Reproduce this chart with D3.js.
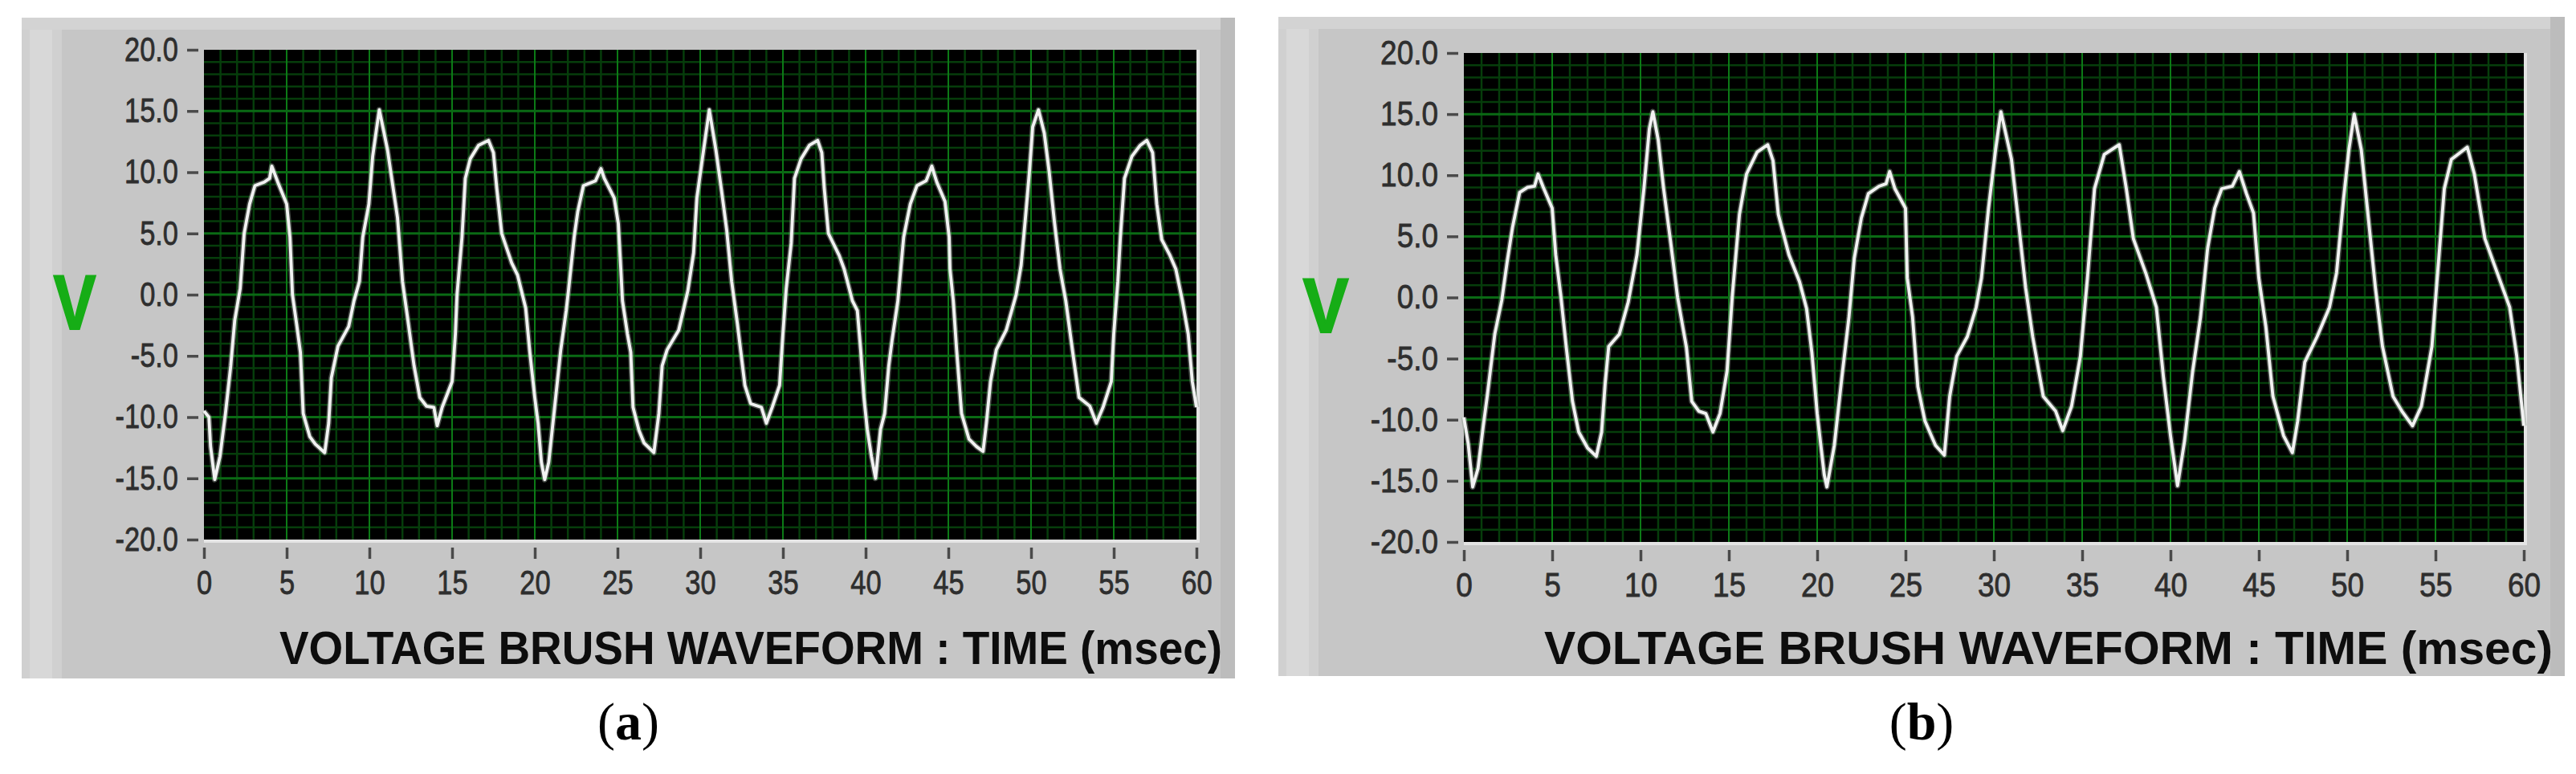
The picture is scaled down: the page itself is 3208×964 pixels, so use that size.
<!DOCTYPE html>
<html>
<head>
<meta charset="utf-8">
<script src="https://cdn.jsdelivr.net/npm/d3@7/dist/d3.min.js"></script>
<style>
  body { margin: 0; background: #fff; }
  svg { display: block; }
</style>
</head>
<body>
<div id="chart-container"></div>
<script>
// waveform (a): time in msec, voltage in V
const timeA = [0.0, 0.3, 0.4, 0.65, 0.97, 1.3, 1.62, 1.86, 2.19, 2.43, 2.76, 3.08, 3.65, 3.97, 4.1, 4.46, 5.0, 5.2, 5.35, 5.6, 5.83, 6.0, 6.4, 6.73, 7.3, 7.54, 7.7, 8.1, 8.75, 9.07, 9.4, 9.6, 9.97, 10.2, 10.45, 10.6, 10.86, 11.1, 11.35, 11.7, 12.0, 12.3, 12.7, 13.05, 13.45, 13.9, 14.1, 14.4, 15.0, 15.2, 15.3, 15.6, 15.8, 16.1, 16.6, 17.2, 17.5, 17.7, 18.0, 18.6, 18.96, 19.45, 19.7, 20.0, 20.2, 20.4, 20.6, 20.84, 21.16, 21.57, 21.9, 22.05, 22.38, 22.6, 22.94, 23.67, 24.0, 24.2, 24.8, 25.05, 25.2, 25.3, 25.6, 25.8, 25.94, 26.3, 26.6, 27.2, 27.5, 27.7, 28.0, 28.7, 29.25, 29.6, 29.8, 30.15, 30.55, 30.95, 31.3, 31.6, 31.9, 32.25, 32.7, 33.05, 33.7, 34.0, 34.35, 34.8, 35.0, 35.2, 35.5, 35.7, 36.1, 36.6, 37.1, 37.35, 37.5, 37.75, 38.4, 38.7, 39.2, 39.5, 39.7, 39.9, 40.1, 40.35, 40.6, 40.9, 41.15, 41.4, 41.6, 41.95, 42.3, 42.7, 43.1, 43.66, 44.0, 44.3, 44.8, 45.05, 45.1, 45.3, 45.5, 45.8, 46.25, 46.7, 47.1, 47.3, 47.55, 47.9, 48.5, 49.1, 49.4, 49.65, 49.9, 50.1, 50.45, 50.8, 51.1, 51.4, 51.75, 52.1, 52.5, 52.9, 53.55, 53.95, 54.35, 54.85, 55.0, 55.25, 55.4, 55.65, 56.1, 56.6, 57.0, 57.35, 57.6, 57.9, 58.4, 58.75, 59.15, 59.5, 59.75, 60.0];
const voltA = [-9.5, -10, -12.4, -15.1, -13.2, -9.7, -5.8, -2.1, 0.5, 5, 7.4, 8.9, 9.2, 9.5, 10.5, 9.2, 7.4, 4.7, 0, -2.4, -4.7, -9.7, -11.6, -12.2, -12.9, -10.5, -6.8, -4.2, -2.6, -0.5, 1.1, 4.7, 7.4, 11.3, 13.7, 15.1, 13.4, 11.8, 9.5, 6.3, 1.1, -1.8, -5.8, -8.4, -9.1, -9.2, -10.7, -9.2, -7.1, -3.2, 0, 4.7, 9.5, 11.1, 12.2, 12.6, 11.6, 8.7, 5.0, 2.6, 1.6, -1.1, -4.7, -8.4, -10.5, -13.7, -15.1, -13.7, -9.7, -4.5, -1.3, 0.5, 4.7, 6.8, 8.9, 9.3, 10.3, 9.5, 7.9, 5.8, 2.1, -0.5, -3.2, -4.7, -9.2, -11.1, -12.1, -12.9, -9.7, -5.8, -4.5, -2.9, 0.3, 3.4, 7.9, 11.3, 15.1, 11.8, 8.4, 5.3, 1.1, -2.4, -7.4, -8.9, -9.2, -10.5, -9.2, -7.4, -3.2, 0.5, 4.2, 9.5, 11.1, 12.2, 12.6, 11.6, 8.7, 5.0, 3.2, 2.1, -0.5, -1.3, -4.5, -8.4, -11, -13.2, -15, -11, -9.7, -5.8, -3.7, -0.5, 4.7, 7.4, 8.9, 9.3, 10.5, 9.2, 7.6, 4.7, 2.1, -0.5, -4.5, -9.7, -11.8, -12.4, -12.8, -10.5, -7.1, -4.5, -2.9, 0, 2.4, 6.1, 10, 13.7, 15.1, 13.2, 10, 6.1, 2.1, -0.5, -4.5, -8.4, -9.1, -10.5, -9.2, -7.1, -3.2, 1.1, 4.7, 9.5, 11.3, 12.2, 12.6, 11.6, 7.4, 4.5, 3.2, 2.1, -0.5, -3.2, -7.1, -9.2];

// waveform (b)
const timeB = [0.0, 0.25, 0.5, 0.8, 1.1, 1.33, 1.75, 2.15, 2.45, 2.75, 3.16, 3.6, 4.0, 4.2, 4.5, 5.0, 5.2, 5.5, 5.8, 6.15, 6.5, 7.0, 7.5, 7.8, 8.0, 8.2, 8.8, 9.3, 9.8, 10.2, 10.5, 10.7, 11.0, 11.3, 11.7, 12.1, 12.6, 12.9, 13.3, 13.7, 14.1, 14.5, 14.9, 15.2, 15.6, 16.0, 16.6, 17.2, 17.5, 17.8, 18.4, 19.0, 19.4, 19.7, 20.0, 20.2, 20.4, 20.55, 20.97, 21.4, 21.8, 22.1, 22.5, 22.9, 23.5, 23.9, 24.1, 24.4, 25.0, 25.1, 25.4, 25.7, 26.1, 26.7, 27.2, 27.5, 27.9, 28.5, 29.0, 29.3, 29.7, 30.1, 30.4, 31.0, 31.4, 31.8, 32.2, 32.8, 33.5, 33.9, 34.4, 34.9, 35.3, 35.7, 36.25, 37.1, 37.5, 37.9, 38.6, 39.2, 39.6, 40.0, 40.4, 40.8, 41.25, 41.7, 42.1, 42.5, 42.9, 43.5, 43.9, 44.3, 44.7, 45.0, 45.4, 45.8, 46.4, 46.9, 47.2, 47.6, 48.3, 49.0, 49.4, 49.8, 50.1, 50.4, 50.8, 51.2, 51.6, 52.0, 52.6, 53.1, 53.7, 54.2, 54.8, 55.1, 55.5, 55.9, 56.8, 57.2, 57.8, 58.5, 59.2, 59.6, 60.0];
const voltB = [-9.8, -12, -15.5, -14, -10.5, -8, -3, -0.2, 2.9, 5.7, 8.6, 9.0, 9.1, 10.1, 9.0, 7.3, 3.5, 0, -4.1, -8.5, -11, -12.3, -13, -11, -7, -4, -3, -0.4, 3.5, 9.0, 13.8, 15.2, 12.9, 9.0, 4.6, 0, -4.1, -8.5, -9.3, -9.5, -11, -9.5, -6, 0.2, 6.8, 10.1, 11.9, 12.5, 11.2, 6.8, 3.5, 1.3, -0.9, -4.5, -9.5, -12, -14.5, -15.5, -12.1, -6.5, -1.6, 3.2, 6.5, 8.5, 9.1, 9.3, 10.3, 8.9, 7.3, 1.6, -1.6, -7.3, -10.1, -12.1, -12.9, -8.1, -4.8, -3.2, -0.8, 1.6, 7.3, 12.1, 15.2, 11.3, 6.1, 0.8, -3.2, -8.1, -9.3, -10.9, -8.9, -4.8, 1.6, 8.9, 11.7, 12.5, 8.9, 4.8, 2.0, -0.8, -6.5, -11.3, -15.4, -11.7, -6.1, -1.6, 4.0, 7.3, 8.9, 9.1, 10.3, 8.5, 6.9, 1.6, -2.4, -8.1, -11.3, -12.7, -10.1, -5.3, -3.2, -0.8, 2.0, 8.1, 12.1, 15.0, 12.1, 6.5, 0.8, -4.0, -8.1, -9.3, -10.5, -8.9, -4.0, 1.6, 8.9, 11.3, 12.3, 10.1, 4.8, 2.0, -0.8, -4.8, -10.5];

const xTicks = [0, 5, 10, 15, 20, 25, 30, 35, 40, 45, 50, 55, 60];
const yTicks = [20, 15, 10, 5, 0, -5, -10, -15, -20];
const axisTitle = "VOLTAGE BRUSH WAVEFORM : TIME (msec)";
const unitLabel = "V";

const svg = d3.select("#chart-container")
    .append("svg")
    .attr("width", 3208)
    .attr("height", 964);

svg.append("rect").attr("width", 3208).attr("height", 964).attr("fill", "#fff");

function drawPanel(p, times, volts) {
    const g = svg.append("g");
    const [fx0, fy0, fx1, fy1] = p.frame;

    // grey LabVIEW style frame
    g.append("rect").attr("x", fx0).attr("y", fy0).attr("width", fx1 - fx0).attr("height", fy1 - fy0).attr("fill", "#c6c6c6");
    g.append("rect").attr("x", fx0).attr("y", fy0).attr("width", 50).attr("height", fy1 - fy0).attr("fill", "#d0d0d0");
    g.append("rect").attr("x", fx0 + 10).attr("y", fy0).attr("width", 28).attr("height", fy1 - fy0).attr("fill", "#d8d8d8");
    g.append("rect").attr("x", fx0).attr("y", fy0).attr("width", fx1 - fx0).attr("height", 15).attr("fill", "#d3d3d3");
    g.append("rect").attr("x", fx1 - 18).attr("y", fy0).attr("width", 18).attr("height", fy1 - fy0).attr("fill", "#bcbcbc");

    const x = d3.scaleLinear().domain([0, 60]).range([p.plot[0], p.plot[2]]);
    const y = d3.scaleLinear().domain([-20, 20]).range([p.plot[3], p.plot[1]]);

    g.append("rect")
        .attr("x", x(0)).attr("y", y(20))
        .attr("width", x(60) - x(0)).attr("height", y(-20) - y(20))
        .attr("fill", "#000");

    // light bevel under / right of the plot
    g.append("rect").attr("x", x(0)).attr("y", y(-20)).attr("width", x(60) - x(0) + 4).attr("height", 4).attr("fill", "#e4e4e4");
    g.append("rect").attr("x", x(60)).attr("y", y(20)).attr("width", 4).attr("height", y(-20) - y(20)).attr("fill", "#e4e4e4");

    // minor grid, 1 msec and 1 V
    const grid = g.append("g");
    grid.selectAll(".vmin").data(d3.range(1, 60).filter(d => d % 5 !== 0)).join("line")
        .attr("x1", d => x(d)).attr("x2", d => x(d))
        .attr("y1", y(20)).attr("y2", y(-20))
        .attr("stroke", "#063d0b").attr("stroke-width", 2.5);
    grid.selectAll(".hmin").data(d3.range(-19, 20).filter(d => d % 5 !== 0)).join("line")
        .attr("x1", x(0)).attr("x2", x(60))
        .attr("y1", d => y(d)).attr("y2", d => y(d))
        .attr("stroke", "#063d0b").attr("stroke-width", 2.5);
    // major grid
    grid.selectAll(".vmaj").data(xTicks.slice(1, -1)).join("line")
        .attr("x1", d => x(d)).attr("x2", d => x(d))
        .attr("y1", y(20)).attr("y2", y(-20))
        .attr("stroke", "#0c7a16").attr("stroke-width", 2);
    grid.selectAll(".hmaj").data(yTicks.slice(1, -1)).join("line")
        .attr("x1", x(0)).attr("x2", x(60))
        .attr("y1", d => y(d)).attr("y2", d => y(d))
        .attr("stroke", "#0a6a14").attr("stroke-width", 3);

    // waveform
    const pts = times.map((t, i) => [t, volts[i]]);
    const line = d3.line().x(d => x(d[0])).y(d => y(d[1]));
    g.append("path").datum(pts).attr("d", line)
        .attr("fill", "none").attr("stroke", "#8f9a90").attr("stroke-width", 7)
        .attr("stroke-linejoin", "round").attr("opacity", 0.5);
    g.append("path").datum(pts).attr("d", line)
        .attr("fill", "none").attr("stroke", "#f2f2f2").attr("stroke-width", 3.8)
        .attr("stroke-linejoin", "round");

    // y axis
    const yAxis = g.append("g")
        .attr("transform", `translate(${x(0) - 7},0)`)
        .call(d3.axisLeft(y).tickValues(yTicks).tickSize(14).tickPadding(11).tickFormat(d => d.toFixed(1)));
    yAxis.select(".domain").remove();
    yAxis.selectAll(".tick line").attr("stroke", "#4a4a4a").attr("stroke-width", 3.5);
    yAxis.selectAll(".tick text")
        .attr("font-family", "'Liberation Sans', Arial, sans-serif")
        .attr("font-size", 42)
        .attr("fill", "#2e2e2e").attr("stroke", "#2e2e2e").attr("stroke-width", 0.8)
        .attr("x", -25 / p.sx)
        .attr("transform", `scale(${p.sx},1)`);

    // x axis
    const xAxis = g.append("g")
        .attr("transform", `translate(0,${y(-20) + 10})`)
        .call(d3.axisBottom(x).tickValues(xTicks).tickSize(14).tickPadding(14));
    xAxis.select(".domain").remove();
    xAxis.selectAll(".tick line").attr("stroke", "#4a4a4a").attr("stroke-width", 3.5);
    xAxis.selectAll(".tick text")
        .attr("font-family", "'Liberation Sans', Arial, sans-serif")
        .attr("font-size", 42)
        .attr("fill", "#2e2e2e").attr("stroke", "#2e2e2e").attr("stroke-width", 0.8)
        .attr("transform", `scale(${p.sx},1)`);

    // axis title
    g.append("text")
        .attr("x", p.titleX).attr("y", 827)
        .attr("textLength", p.titleW).attr("lengthAdjust", "spacingAndGlyphs")
        .attr("font-family", "'Liberation Sans', Arial, sans-serif")
        .attr("font-weight", "bold").attr("font-size", 58)
        .attr("fill", "#0d0d0d")
        .text(axisTitle);

    // unit label
    g.append("text")
        .attr("x", p.vX - p.vW / 2).attr("y", p.vBase)
        .attr("textLength", p.vW).attr("lengthAdjust", "spacingAndGlyphs")
        .attr("font-family", "'Liberation Sans', Arial, sans-serif")
        .attr("font-weight", "bold").attr("font-size", 96)
        .attr("fill", "#16ad16").attr("stroke", "#16ad16").attr("stroke-width", 2)
        .text(unitLabel);

    // panel tag
    const tag = svg.append("text")
        .attr("x", (fx0 + fx1) / 2).attr("y", 921)
        .attr("text-anchor", "middle")
        .attr("font-family", "'Liberation Serif', 'Times New Roman', serif")
        .attr("font-size", 66).attr("fill", "#000");
    tag.append("tspan").text("(");
    tag.append("tspan").attr("font-weight", "bold").text(p.tag);
    tag.append("tspan").text(")");
}

drawPanel({
    frame: [27, 22, 1538, 845],
    plot: [254, 62, 1490, 672],
    sx: 0.82,
    titleX: 348, titleW: 1174,
    vX: 93, vW: 53, vBase: 410,
    tag: "a"
}, timeA, voltA);

drawPanel({
    frame: [1592, 21, 3194, 842],
    plot: [1823, 66, 3143, 675],
    sx: 0.88,
    titleX: 1923, titleW: 1256,
    vX: 1651, vW: 57, vBase: 414,
    tag: "b"
}, timeB, voltB);
</script>
</body>
</html>
